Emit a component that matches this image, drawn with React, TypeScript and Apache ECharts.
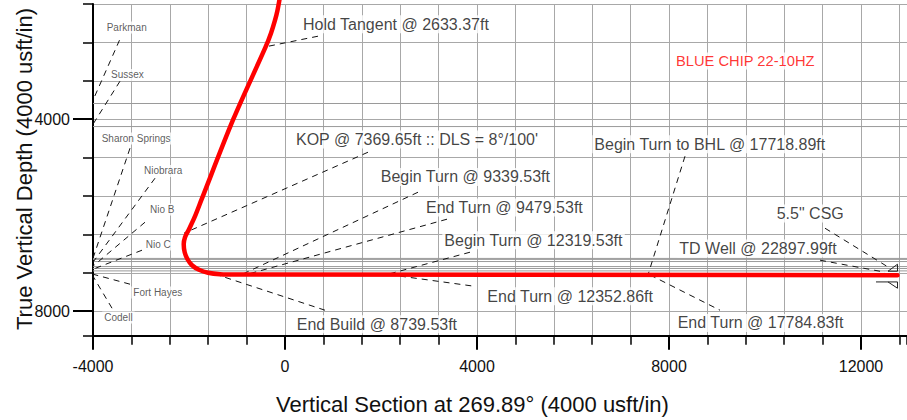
import React, { useEffect, useRef } from "react";
import * as echarts from "echarts";

const FONT = '"Liberation Sans", Arial, Helvetica, sans-serif';

// Axis ranges
const X_MIN = -4000;
const X_MAX = 12958;
const Y_MIN = 1600;
const Y_MAX = 8510;
const xMajorTicks = [-4000, 0, 4000, 8000, 12000];
const yMajorTicks = [4000, 8000];

// Well path: vertical section (usft) and TVD (usft)
const wellVS = [-115, -156, -208, -292, -406, -1077, -1744, -1881, -2010, -2083, -2110, -2090, -2031, -1938, -1792, -1604, -1354, -938, 12760];
const wellTVD = [1510, 1729, 1937, 2208, 2500, 4000, 5687, 6035, 6312, 6458, 6604, 6771, 6917, 7042, 7135, 7198, 7228, 7235, 7250];

// Formation tops
const formationNames = ["Parkman", "Sussex", "Sharon Springs", "Niobrara", "Nio B", "Nio C", "Fort Hayes", "Codell"];
const formationTVD = [3673, 4153, 6900, 6920, 6965, 7070, 7110, 7160];
const formationLabelVS = [-3715, -3625, -3819, -2938, -2813, -2902, -3160, -3765];
const formationLabelTVD = [2090, 3077, 4402, 5077, 5881, 6610, 7610, 8131];
const formationLeadFromVS = [-3448, -3438, -3229, -2708, -2917, -2979, -3229, -3604];
const formationLeadFromTVD = [2354, 3208, 4604, 5229, 6146, 6729, 7437, 7937];
const formationLeadToVS = [-4000, -4000, -4000, -4000, -4000, -4000, -4000, -4000];
const formationLeadToTVD = [3604, 4104, 6896, 6979, 7062, 7125, 7229, 7271];

// Well annotations
const annoText = [
  "Hold Tangent @ 2633.37ft",
  "KOP @ 7369.65ft :: DLS = 8°/100'",
  "Begin Turn @ 9339.53ft",
  "End Turn @ 9479.53ft",
  "Begin Turn @ 12319.53ft",
  "End Turn @ 12352.86ft",
  "End Build @ 8739.53ft",
  "Begin Turn to BHL @ 17718.89ft",
  "End Turn @ 17784.83ft",
  "TD Well @ 22897.99ft",
  '5.5" CSG',
];
const annoLabelVS = [375, 229, 1994, 2937, 3319, 4215, 244, 6444, 8181, 8215, 10244];
const annoLabelTVD = [2021, 4423, 5202, 5840, 6521, 7687, 8271, 4521, 8244, 6694, 5965];
const annoFromVS = [687, 1729, 2771, 3375, 3854, 2167, 833, 8333, 7604, 11146, 11250];
const annoFromTVD = [2271, 4688, 5521, 6083, 6771, 7237, 7979, 4771, 7244, 6937, 6271];
const annoToVS = [-417, -2104, -896, -792, 2125, 3938, -1542, 7562, 9062, 12500, 12604];
const annoToTVD = [2494, 6375, 7233, 7233, 7235, 7479, 7198, 7243, 7979, 7187, 7104];

// Well name
const wellName = "BLUE CHIP 22-10HZ";
const wellNameVS = 8146;
const wellNameTVD = 2785;

// Casing symbol (5.5" CSG at TD)
const casingUpperVS = [12562, 12760, 12760, 12562];
const casingUpperTVD = [7167, 7021, 7167, 7167];
const casingLowerVS = [12312, 12760, 12760, 12562];
const casingLowerTVD = [7390, 7390, 7521, 7390];

const zip = (a: number[], b: number[]) => a.map((v, i) => [v, b[i]]);

export default function App() {
  const ref = useRef<HTMLDivElement>(null);

  useEffect(() => {
    document.body.style.margin = "0";
    if (!ref.current) return;
    const chart = echarts.init(ref.current, null, { renderer: "svg" });

    const series: any[] = [];

    formationTVD.forEach((t) => {
      series.push({
        type: "line",
        data: [[X_MIN, t], [X_MAX, t]],
        symbol: "none",
        silent: true,
        lineStyle: { color: "#9a9a9a", width: 1 },
        z: 2,
      });
    });

    formationNames.forEach((_, i) => {
      series.push({
        type: "line",
        data: [[formationLeadFromVS[i], formationLeadFromTVD[i]], [formationLeadToVS[i], formationLeadToTVD[i]]],
        symbol: "none",
        silent: true,
        lineStyle: { color: "#111", width: 1, type: [6, 5] },
        z: 3,
      });
    });

    annoText.forEach((_, i) => {
      series.push({
        type: "line",
        data: [[annoFromVS[i], annoFromTVD[i]], [annoToVS[i], annoToTVD[i]]],
        symbol: "none",
        silent: true,
        lineStyle: { color: "#111", width: 1, type: [6, 5] },
        z: 3,
      });
    });

    series.push({
      type: "line",
      data: zip(wellVS, wellTVD),
      symbol: "none",
      smooth: 0.3,
      clip: false,
      silent: true,
      lineStyle: { color: "#ff0000", width: 4.5, cap: "round", join: "round" },
      z: 6,
    });

    [zip(casingUpperVS, casingUpperTVD), zip(casingLowerVS, casingLowerTVD)].forEach((d) => {
      series.push({
        type: "line",
        data: d,
        symbol: "none",
        silent: true,
        lineStyle: { color: "#222", width: 1 },
        z: 7,
      });
    });

    const labelBase = {
      show: true,
      position: "right",
      distance: 0,
      formatter: "{b}",
      fontFamily: FONT,
      backgroundColor: "#fff",
      padding: [1, 2],
      offset: [-2, 0],
    };

    series.push({
      type: "scatter",
      symbolSize: 0,
      silent: true,
      z: 8,
      data: annoText.map((s, i) => ({ name: s, value: [annoLabelVS[i], annoLabelTVD[i]] })),
      label: { ...labelBase, fontSize: 16, color: "#111" },
    });

    series.push({
      type: "scatter",
      symbolSize: 0,
      silent: true,
      z: 8,
      data: formationNames.map((s, i) => ({ name: s, value: [formationLabelVS[i], formationLabelTVD[i]] })),
      label: { ...labelBase, fontSize: 10, color: "#333" },
    });

    series.push({
      type: "scatter",
      symbolSize: 0,
      silent: true,
      z: 8,
      data: [{ name: wellName, value: [wellNameVS, wellNameTVD] }],
      label: { ...labelBase, fontSize: 14.7, color: "#ff0000" },
    });

    const gridLine = { show: true, lineStyle: { color: "#a8a8a8", width: 1 } };

    chart.setOption({
      animation: false,
      grid: { left: 93, top: 4, right: 0, bottom: 84.3, containLabel: false, outerBoundsMode: "none" },
      xAxis: [
        {
          type: "value",
          min: X_MIN,
          max: X_MAX,
          interval: 800,
          position: "bottom",
          axisLine: { show: true, onZero: false, lineStyle: { color: "#000", width: 2 } },
          axisTick: { show: true, length: 9, lineStyle: { color: "#000", width: 1.5 } },
          axisLabel: { show: false },
          splitLine: gridLine,
        },
        {
          type: "value",
          min: X_MIN,
          max: X_MAX,
          position: "bottom",
          axisLine: { show: false, onZero: false },
          axisTick: { show: true, length: 14, customValues: xMajorTicks, lineStyle: { color: "#000", width: 2 } },
          axisLabel: {
            show: true,
            customValues: xMajorTicks,
            margin: 23,
            fontSize: 16,
            fontFamily: FONT,
            color: "#111",
            formatter: (v: number) => String(v),
          },
          splitLine: { show: false },
        },
      ],
      yAxis: [
        {
          type: "value",
          inverse: true,
          min: Y_MIN,
          max: Y_MAX,
          interval: 800,
          position: "left",
          axisLine: { show: true, onZero: false, lineStyle: { color: "#000", width: 2 } },
          axisTick: { show: true, length: 10, lineStyle: { color: "#000", width: 1.5 } },
          axisLabel: { show: false },
          splitLine: gridLine,
        },
        {
          type: "value",
          inverse: true,
          min: Y_MIN,
          max: Y_MAX,
          position: "left",
          axisLine: { show: false, onZero: false },
          axisTick: { show: true, length: 20, customValues: yMajorTicks, lineStyle: { color: "#000", width: 2 } },
          axisLabel: {
            show: true,
            customValues: yMajorTicks,
            margin: 23,
            fontSize: 16,
            fontFamily: FONT,
            color: "#111",
            formatter: (v: number) => String(v),
          },
          splitLine: { show: false },
        },
      ],
      graphic: [
        {
          type: "text",
          x: 472.5,
          y: 404,
          style: {
            text: "Vertical Section at 269.89° (4000 usft/in)",
            fontSize: 22,
            fontFamily: FONT,
            fill: "#111",
            align: "center",
            verticalAlign: "middle",
          },
        },
        {
          type: "text",
          x: 24.5,
          y: 169,
          rotation: Math.PI / 2,
          style: {
            text: "True Vertical Depth (4000 usft/in)",
            fontSize: 22,
            fontFamily: FONT,
            fill: "#111",
            align: "center",
            verticalAlign: "middle",
          },
        },
      ],
      series,
    });

    return () => chart.dispose();
  }, []);

  return <div ref={ref} style={{ width: 907, height: 420 }} />;
}
